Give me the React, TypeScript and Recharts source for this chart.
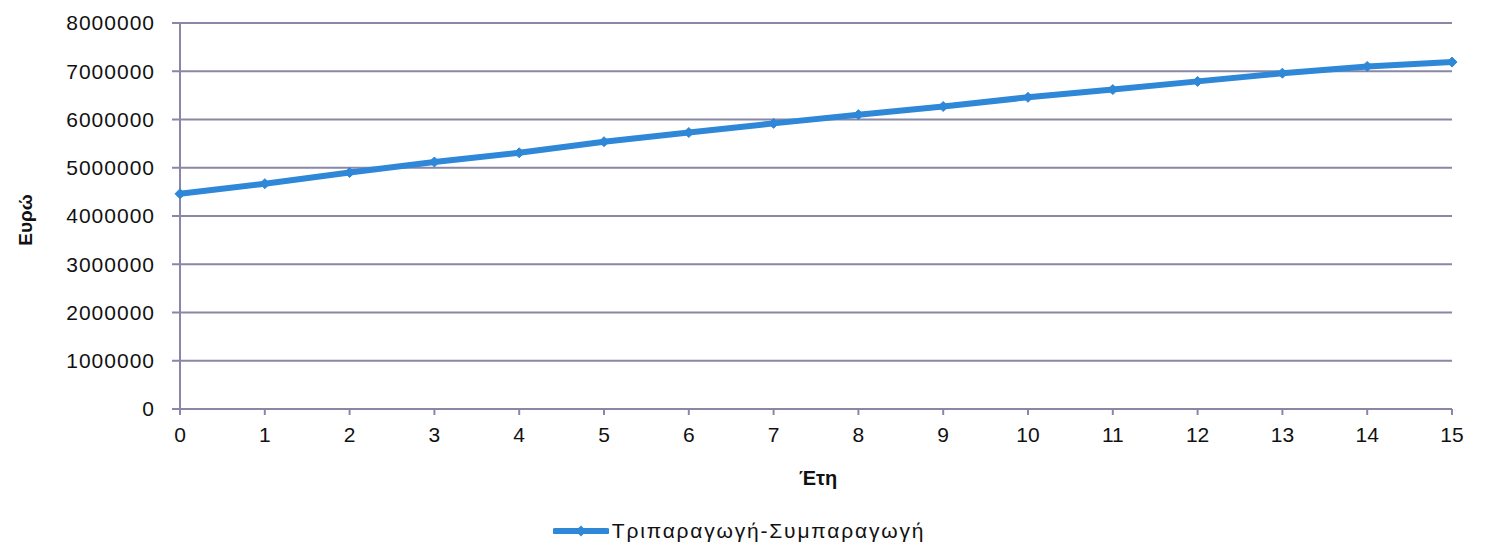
import React from 'react';
import { LineChart, Line, XAxis, YAxis, CartesianGrid, Legend } from 'recharts';

const years = ['0','1','2','3','4','5','6','7','8','9','10','11','12','13','14','15'];
const values = [4460000, 4670000, 4900000, 5120000, 5310000, 5540000, 5730000, 5920000, 6100000, 6270000, 6460000, 6620000, 6790000, 6960000, 7100000, 7190000];
const yTicks = [0, 1000000, 2000000, 3000000, 4000000, 5000000, 6000000, 7000000, 8000000];
const seriesName = 'Τριπαραγωγή-Συμπαραγωγή';
const xTitle = 'Έτη';
const yTitle = 'Ευρώ';

const data = years.map((y, i) => ({ year: y, v: values[i] }));

const BLUE = '#2f87d8';
const GRID = '#8a87a6';
const FONT = '"Liberation Sans", Arial, sans-serif';

const Diamond = (props: any) => {
  const { cx, cy } = props;
  if (cx == null || cy == null) return null;
  const s = 5;
  return <path d={`M${cx},${cy - s}L${cx + s},${cy}L${cx},${cy + s}L${cx - s},${cy}Z`} fill={BLUE} stroke={BLUE} />;
};

const LegendContent = () => (
  <div style={{ display: 'flex', justifyContent: 'center', alignItems: 'center', fontFamily: FONT, fontSize: 21, color: '#111', letterSpacing: 1.8, marginLeft: 26 }}>
    <svg width={56} height={14} style={{ marginRight: 3 }}>
      <line x1={2} y1={7} x2={54} y2={7} stroke={BLUE} strokeWidth={6} strokeLinecap="round" />
      <path d="M28,1.5L33.5,7L28,12.5L22.5,7Z" fill={BLUE} />
    </svg>
    <span>{seriesName}</span>
  </div>
);

export default function App() {
  return (
    <div style={{ position: 'absolute', left: 0, top: 0, background: '#fff' }}>
      <LineChart width={1495} height={555} data={data} margin={{ top: 23, right: 43, left: 0, bottom: 12 }}>
        <CartesianGrid vertical={false} stroke={GRID} strokeWidth={2} />
        <XAxis
          dataKey="year"
          stroke={GRID}
          strokeWidth={2}
          tickSize={6}
          tickMargin={12}
          height={110}
          tick={{ fill: '#111', fontSize: 21, fontFamily: FONT }}
          label={() => (
            <text x={818} y={485} textAnchor="middle" fontFamily={FONT} fontWeight="bold" fontSize={20} fill="#111">{xTitle}</text>
          )}
        />
        <YAxis
          domain={[0, 8000000]}
          ticks={yTicks}
          interval={0}
          width={180}
          stroke={GRID}
          strokeWidth={2}
          tickSize={8}
          tickMargin={17}
          tick={{ fill: '#111', fontSize: 21, fontFamily: FONT, letterSpacing: 1 }}
          label={() => (
            <text x={32} y={220} transform="rotate(-90 32 220)" textAnchor="middle" fontFamily={FONT} fontWeight="bold" fontSize={19} fill="#111">{yTitle}</text>
          )}
        />
        <Legend verticalAlign="bottom" content={<LegendContent />} />
        <Line
          type="linear"
          dataKey="v"
          name={seriesName}
          stroke={BLUE}
          strokeWidth={6}
          dot={<Diamond />}
          isAnimationActive={false}
        />
      </LineChart>
    </div>
  );
}
